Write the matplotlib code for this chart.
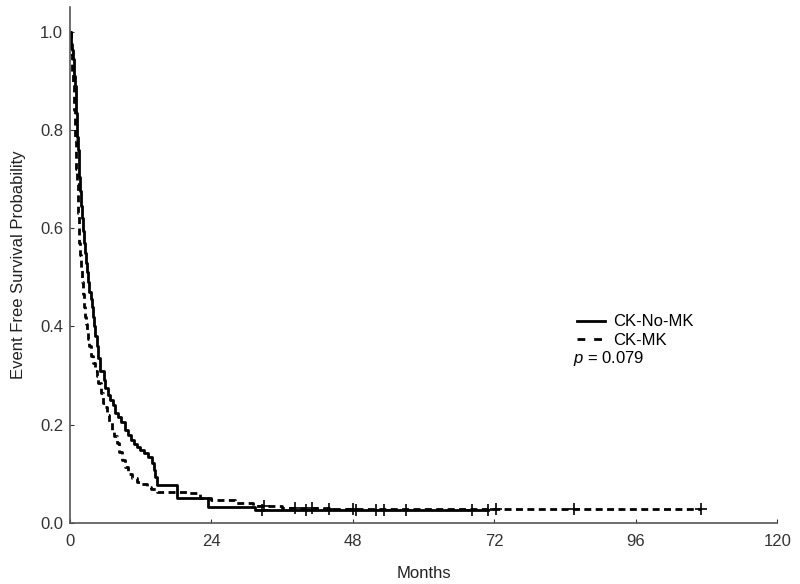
import numpy as np
import matplotlib
matplotlib.use('Agg')
import matplotlib.pyplot as plt
from matplotlib.lines import Line2D

plt.rcParams['font.family'] = ['Liberation Sans', 'DejaVu Sans']
plt.rcParams['mathtext.fontset'] = 'custom'
plt.rcParams['mathtext.it'] = 'Liberation Sans:italic'
plt.rcParams['mathtext.rm'] = 'Liberation Sans'

# CK-No-MK (solid)
t_nomk = [0, 0.15, 0.3, 0.45, 0.6, 0.75, 0.85, 0.95, 1.05, 1.15,
          1.25, 1.35, 1.45, 1.6, 1.75, 1.9, 2.05, 2.2, 2.35, 2.5,
          2.7, 2.9, 3.1, 3.3, 3.5, 3.7, 3.9, 4.1, 4.3, 4.5,
          4.8, 5.1, 5.7, 6.0, 6.4, 6.8, 7.3, 7.7, 8.2, 8.7,
          9.3, 9.9, 10.3, 10.8, 11.3, 11.9, 12.5, 13.3, 13.9, 14.2,
          14.4, 14.7, 18.1, 23.5, 31.4, 71.0]
s_nomk = [1.0, 0.975, 0.963, 0.945, 0.93, 0.91, 0.89, 0.865, 0.835, 0.81,
          0.785, 0.76, 0.735, 0.705, 0.675, 0.645, 0.62, 0.595, 0.57, 0.55,
          0.53, 0.51, 0.49, 0.47, 0.455, 0.44, 0.42, 0.40, 0.38, 0.36,
          0.335, 0.31, 0.29, 0.275, 0.26, 0.25, 0.24, 0.224, 0.215, 0.205,
          0.19, 0.18, 0.169, 0.16, 0.155, 0.148, 0.142, 0.135, 0.122, 0.108,
          0.094, 0.078, 0.05, 0.033, 0.026, 0.026]
cens_nomk = [32.5, 40.0, 48.5, 52.0, 53.3, 57.0, 68.2, 71.0]

# CK-MK (dashed)
t_mk = [0, 0.1, 0.2, 0.3, 0.4, 0.5, 0.6, 0.7, 0.8, 0.9,
        1.0, 1.1, 1.2, 1.3, 1.4, 1.5, 1.6, 1.7, 1.85, 2.0,
        2.15, 2.3, 2.5, 2.7, 2.9, 3.1, 3.3, 3.6, 3.9, 4.2,
        4.5, 4.8, 5.2, 5.6, 5.9, 6.3, 6.7, 7.1, 7.5, 7.9,
        8.3, 8.8, 9.3, 9.9, 10.5, 11.3, 12.1, 13.0, 13.8, 14.7,
        20.0, 22.0, 24.0, 28.0, 31.0, 36.0, 44.0, 107.0]
s_mk = [1.0, 0.975, 0.955, 0.935, 0.915, 0.895, 0.87, 0.84, 0.81, 0.78,
        0.75, 0.72, 0.69, 0.66, 0.63, 0.60, 0.57, 0.545, 0.515, 0.49,
        0.465, 0.44, 0.42, 0.405, 0.39, 0.375, 0.36, 0.34, 0.325, 0.31,
        0.30, 0.285, 0.265, 0.245, 0.237, 0.22, 0.205, 0.19, 0.178, 0.163,
        0.145, 0.128, 0.113, 0.1, 0.092, 0.084, 0.079, 0.074, 0.069, 0.064,
        0.061, 0.05, 0.047, 0.041, 0.035, 0.03, 0.028, 0.028]
cens_mk = [33.0, 38.2, 41.0, 44.0, 48.0, 72.3, 85.6, 107.0]

x_ticks = [0, 24, 48, 72, 96, 120]
y_ticks = [0.0, 0.2, 0.4, 0.6, 0.8, 1.0]


def step_at(t, s, x):
    idx = np.searchsorted(t, x, side='right') - 1
    return np.array(s)[idx]


fig = plt.figure(figsize=(8, 5.84), dpi=100)
ax = fig.add_axes([0.0875, 0.1045, 0.884, 0.8835])

dash = (0, (2.5, 1.6))
ax.plot(t_nomk, s_nomk, color='black', lw=2.0, drawstyle='steps-post')
ax.plot(t_mk, s_mk, color='black', lw=2.0, ls=dash, drawstyle='steps-post')
ax.plot(cens_nomk, step_at(t_nomk, s_nomk, cens_nomk), '+', color='black', ms=8, mew=1.2)
ax.plot(cens_mk, step_at(t_mk, s_mk, cens_mk), '+', color='black', ms=8, mew=1.2)

ax.set_xlim(0, 120)
ax.set_ylim(0, 1.05)
ax.set_xticks(x_ticks)
ax.set_yticks(y_ticks)
ax.set_yticklabels(['%.1f' % v for v in y_ticks])
ax.tick_params(direction='in', length=3, labelsize=12, colors='#333333')
ax.tick_params(axis='x', pad=8)
ax.tick_params(axis='y', pad=5)
for side in ['top', 'right']:
    ax.spines[side].set_visible(False)
for side in ['left', 'bottom']:
    ax.spines[side].set_color('#555555')
    ax.spines[side].set_linewidth(1.2)

ax.set_xlabel('Months', fontsize=12, color='#222222', labelpad=12)
ax.set_ylabel('Event Free Survival Probability', fontsize=12, color='#222222', labelpad=10)

handles = [Line2D([], [], color='black', lw=2.0),
           Line2D([], [], color='black', lw=2.0, ls=(0, (2.8, 3.2)))]
ax.legend(handles, ['CK-No-MK', 'CK-MK'], loc='upper left', bbox_to_anchor=(0.698, 0.43),
          frameon=False, fontsize=12, handlelength=1.7, handletextpad=0.45, labelspacing=0.2,
          borderpad=0.3)
ax.text(0.711, 0.318, '$p$ = 0.079', transform=ax.transAxes, fontsize=12, va='center')

fig.savefig('out.png', dpi=100)
